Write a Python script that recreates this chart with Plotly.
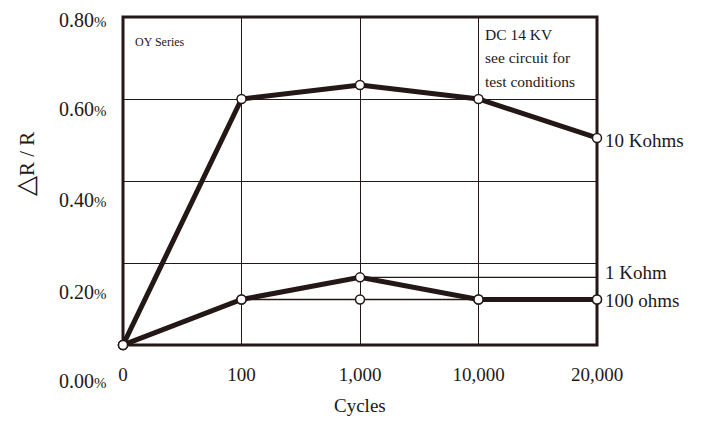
import plotly.graph_objects as go

# ---- data ----
cycles = ["0", "100", "1,000", "10,000", "20,000"]
r10k = [0.0, 0.60, 0.634, 0.60, 0.505]
r1k = [0.0, 0.111, 0.165, 0.111, 0.111]
r100 = [0.0, 0.111, 0.111, 0.111, 0.111]
y_tick_vals = [0.8, 0.6, 0.4, 0.2, 0.0]
y_tick_text = ["0.80", "0.60", "0.40", "0.20", "0.00"]
series_names = ["10 Kohms", "1 Kohm", "100 ohms"]
note_lines = ["DC 14 KV", "see circuit for", "test conditions"]

# ---- style ----
INK = "#231815"
FONT = "Liberation Serif, Times New Roman, serif"
y_label_shift = [-3, -10, -19, -29, -36]

xs = list(range(len(cycles)))
fig = go.Figure()

fig.add_trace(go.Scatter(x=xs, y=r100, mode="lines", line=dict(color=INK, width=1.5),
                         cliponaxis=False, showlegend=False))
fig.add_trace(go.Scatter(x=xs, y=r1k, mode="lines", line=dict(color=INK, width=5),
                         cliponaxis=False, showlegend=False))
fig.add_trace(go.Scatter(x=xs, y=r10k, mode="lines", line=dict(color=INK, width=5),
                         cliponaxis=False, showlegend=False))
for ys in (r100, r1k, r10k):
    fig.add_trace(go.Scatter(x=xs, y=ys, mode="markers",
                             marker=dict(size=9, color="white", line=dict(color=INK, width=1.5)),
                             cliponaxis=False, showlegend=False))

# frame
fig.add_shape(type="rect", xref="paper", yref="paper", x0=0, x1=1, y0=0, y1=1,
              line=dict(color=INK, width=3), layer="below")
# leader line for 1 Kohm
fig.add_shape(type="line", xref="x", yref="y", x0=xs[2], x1=xs[-1], y0=r1k[2], y1=r1k[2],
              line=dict(color=INK, width=1.3), layer="below")

ann = []
for v, t, s in zip(y_tick_vals, y_tick_text, y_label_shift):
    ann.append(dict(xref="paper", yref="y", x=0, y=v, xanchor="right", yanchor="middle",
                    xshift=-14, yshift=s, showarrow=False,
                    text=t + "<span style='font-size:15px'>%</span>",
                    font=dict(family=FONT, size=20, color=INK)))
# series labels on right
ann.append(dict(xref="paper", yref="y", x=1, y=r10k[-1], xanchor="left", yanchor="middle",
                xshift=6, yshift=-3, showarrow=False, text=series_names[0],
                font=dict(family=FONT, size=19, color=INK)))
ann.append(dict(xref="paper", yref="y", x=1, y=r1k[2], xanchor="left", yanchor="middle",
                xshift=6, yshift=5, showarrow=False, text=series_names[1],
                font=dict(family=FONT, size=19, color=INK)))
ann.append(dict(xref="paper", yref="y", x=1, y=r100[-1], xanchor="left", yanchor="middle",
                xshift=6, yshift=-1, showarrow=False, text=series_names[2],
                font=dict(family=FONT, size=19, color=INK)))
# notes
ann.append(dict(xref="paper", yref="paper", x=0, y=1, xanchor="left", yanchor="middle",
                xshift=10, yshift=-25, showarrow=False, text="OY Series",
                font=dict(family=FONT, size=12, color=INK)))
for i, line in enumerate(note_lines):
    ann.append(dict(xref="x", yref="paper", x=xs[3], y=1, xanchor="left", yanchor="middle",
                    xshift=4, yshift=-17 - 23.5 * i, showarrow=False, text=line,
                    font=dict(family=FONT, size=15.5, color=INK)))
# axis titles
ann.append(dict(xref="paper", yref="paper", x=0.5, y=0, xanchor="center", yanchor="middle",
                yshift=-60, showarrow=False, text="Cycles",
                font=dict(family=FONT, size=19, color=INK)))
ann.append(dict(xref="paper", yref="paper", x=0, y=0.5, xanchor="center", yanchor="middle",
                xshift=-98, yshift=17, showarrow=False,
                text="<span style='font-size:26px'>△</span>R / R", textangle=-90,
                font=dict(family=FONT, size=21, color=INK)))

# the page body has an 8px default margin, so the figure is sized to fit the window
fig.update_layout(
    width=696, height=415,
    margin=dict(l=115, r=107, t=9, b=78),
    paper_bgcolor="white", plot_bgcolor="rgba(0,0,0,0)",
    annotations=ann,
    xaxis=dict(range=[0, len(cycles) - 1], tickvals=xs, ticktext=cycles,
               showgrid=True, gridcolor=INK, gridwidth=1.3, zeroline=False,
               showline=False, ticks="outside", ticklen=12, tickcolor="rgba(0,0,0,0)",
               tickfont=dict(family=FONT, size=19, color=INK)),
    yaxis=dict(range=[0, 0.8], tickvals=[0.2, 0.4, 0.6], showticklabels=False,
               showgrid=True, gridcolor=INK, gridwidth=1.3, zeroline=False, showline=False),
)

fig.write_html("out.html")
